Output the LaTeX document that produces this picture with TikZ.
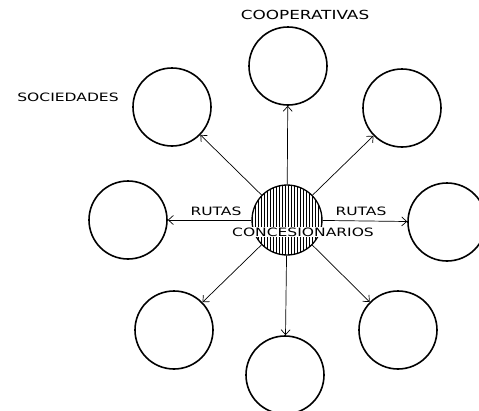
\documentclass[tikz,border=0pt]{standalone}
\usepackage{fontspec}
\newfontfamily\mano[FakeStretch=1.35]{DejaVu Sans}
\usetikzlibrary{arrows.meta,patterns}

\begin{document}
\begin{tikzpicture}[
  x=1pt, y=-1pt,
  grupo/.style={draw, circle, line width=1.6pt, minimum size=78pt, inner sep=0pt},
  ruta/.style={-{Straight Barb[length=5pt,width=9pt]}, line width=0.7pt},
  etiqueta/.style={font=\mano\fontsize{11.5}{12}\selectfont, inner sep=1pt}
]
  \useasboundingbox (0,0) rectangle (479,410);

  % centro
  \node[draw, circle, line width=1.3pt, minimum size=70pt, inner sep=0pt,
        pattern=vertical lines] (conc) at (287,220) {};

  % grupos alrededor
  \node[grupo] (coop) at (288,66) {};
  \node[grupo] (soc)  at (172,107) {};
  \node[grupo] (nE)   at (402,108) {};
  \node[grupo] (izq)  at (128,220) {};
  \node[grupo] (der)  at (447,222) {};
  \node[grupo] (sO)   at (174,330) {};
  \node[grupo] (sur)  at (285,375) {};
  \node[grupo] (sE)   at (398,330) {};

  \foreach \g in {coop,soc,nE,izq,der,sO,sur,sE}
    \draw[ruta] (conc) -- (\g);

  % textos
  \node[etiqueta, font=\mano\fontsize{12.5}{13}\selectfont] (tcoop) at (305,15) {COOPERATIVAS};
  \node[etiqueta] (tsoc) at (68,97) {SOCIEDADES};
  \node[etiqueta] (rutaI) at (216,211) {RUTAS};
  \node[etiqueta] (rutaD) at (361,211) {RUTAS};
  \node[etiqueta, fill=white] (tconc) at (303,232) {CONCESIONARIOS};
\end{tikzpicture}
\end{document}
